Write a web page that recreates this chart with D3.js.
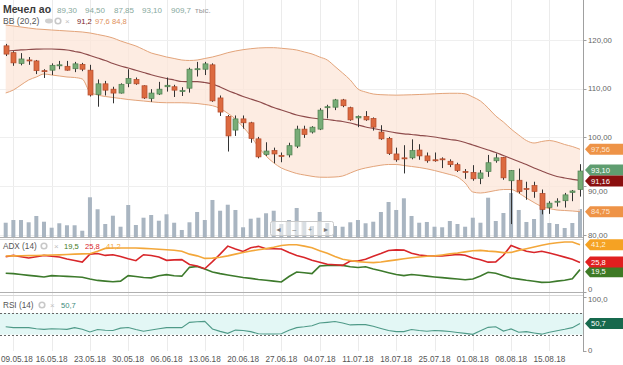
<!DOCTYPE html>
<html>
<head>
<meta charset="utf-8">
<script src="https://cdn.jsdelivr.net/npm/d3@7"></script>
<style>
  body { margin: 0; background: #fff; }
  svg { display: block; font-family: "Liberation Sans", Arial, sans-serif; }
</style>
</head>
<body>
<svg width="623" height="365"></svg>
<script>
// daily candles, Мечел ао, 08.05.18 - 21.08.18
const opens  = [118.8,117.4,115.2,115.9,115.7,113.7,113.8,114.7,114.6,114.1,115.0,113.8,108.8,111.0,109.9,109.1,111.1,111.9,110.6,108.0,
                108.9,110.4,110.4,109.4,110.1,113.9,114.0,114.9,108.1,104.3,101.5,103.8,103.0,99.7,96.5,97.3,96.3,96.4,98.2,101.7,
                101.1,101.7,106.1,106.2,107.7,106.1,104.0,104.3,103.9,101.1,99.8,96.6,95.8,95.8,97.4,96.2,95.4,95.6,95.1,94.4,
                93.0,92.8,91.6,93.0,95.2,95.9,91.1,91.2,89.5,90.1,88.5,85.6,86.7,87.0,88.7,89.30];
const highs  = [119.2,117.7,117.3,116.5,115.9,114.0,115.2,115.7,115.7,115.5,115.3,114.9,111.9,111.6,110.4,111.1,114.0,112.3,110.7,109.9,
                111.4,112.3,110.8,110.3,114.3,115.5,115.5,115.2,108.6,104.6,104.5,104.5,103.2,100.1,99.0,97.9,96.9,98.9,102.4,102.4,
                102.3,106.0,106.7,107.9,107.9,106.3,104.5,105.4,104.1,102.5,100.1,97.9,98.4,99.6,98.6,96.9,96.9,95.9,95.5,94.8,
                93.5,94.3,93.3,96.4,96.7,96.0,93.3,93.6,90.9,90.9,89.3,86.9,87.5,88.6,89.2,94.50];
const lows   = [116.7,114.7,114.8,114.9,113.0,112.2,112.8,114.0,113.7,113.4,113.6,108.4,106.3,108.6,107.0,109.0,110.3,110.8,107.9,107.3,
                108.7,109.4,108.3,108.5,109.2,112.5,112.8,107.3,104.4,97.1,100.3,101.8,98.9,95.7,96.2,94.7,94.9,95.9,97.8,99.9,
                100.8,101.5,103.9,105.6,106.2,103.4,102.1,103.4,101.4,99.5,96.4,95.0,92.6,95.5,95.4,94.8,95.0,93.7,93.9,92.9,
                91.5,91.1,90.4,91.9,94.8,91.3,82.2,88.5,87.2,87.6,84.2,84.3,85.8,85.6,86.9,87.85];
const closes = [117.1,115.3,116.1,115.7,113.7,113.6,114.8,114.9,113.8,115.1,114.0,108.7,111.0,109.7,109.1,110.9,112.1,111.0,108.1,109.1,
                109.9,110.7,109.7,109.6,114.0,114.1,115.1,107.5,105.2,100.3,103.8,103.0,99.8,96.0,97.2,96.6,96.2,98.3,101.7,100.6,
                102.1,105.6,106.3,107.7,106.5,103.6,104.3,103.6,102.1,99.7,96.7,95.4,95.6,97.3,96.2,95.2,95.2,95.5,94.4,93.2,
                92.8,91.5,92.7,94.8,95.8,91.7,93.2,88.9,89.3,88.9,85.2,86.5,86.9,88.2,89.0,93.10];
// volume, thousands of shares
const volumes = [464,552,552,478,683,497,302,446,381,381,204,1291,901,422,692,334,1040,390,627,715,
                 529,738,464,228,478,813,552,1203,854,1049,878,316,594,627,771,854,422,552,943,488,
                 358,813,455,358,334,478,552,446,497,813,1138,878,1258,683,464,488,334,316,520,422,
                 334,627,464,1277,520,780,1430,878,488,585,1365,455,422,293,455,909.7];

// Bollinger (20,2)
const bbMid = [117.64,117.84,117.95,118.05,118.11,118.15,118.15,118.09,117.95,117.64,117.33,116.82,116.30,115.79,115.17,114.66,114.25,113.78,113.33,112.87,
               112.46,112.09,111.79,111.48,111.44,111.44,111.27,110.97,110.35,109.63,109.01,108.40,107.88,107.37,106.76,106.14,105.63,105.11,104.60,104.25,
               103.98,103.78,103.68,103.47,103.27,102.96,102.55,102.14,101.83,101.52,101.21,100.94,100.74,100.60,100.43,100.29,100.08,99.81,99.57,99.36,
               98.95,98.44,97.93,97.41,96.90,96.28,95.67,95.05,94.43,93.72,93.10,92.48,91.97,91.66,91.40,91.16];
const bbUp  = [123.08,122.88,122.67,122.46,122.26,122.16,122.05,121.95,121.85,121.75,121.64,121.44,121.13,120.82,120.41,119.80,119.28,118.77,118.05,117.33,
               116.92,116.51,116.20,115.89,115.79,115.89,116.20,116.51,116.92,117.39,117.74,118.01,118.21,118.36,118.42,118.42,118.30,118.15,117.95,117.54,
               117.13,116.51,115.89,114.56,113.22,111.79,109.94,109.32,108.91,108.77,108.71,108.67,108.71,108.75,108.81,108.87,108.95,109.02,109.06,109.06,
               108.95,108.30,107.47,106.04,104.39,103.16,101.72,100.49,99.36,98.85,99.16,99.36,99.06,98.54,98.13,97.56];
const bbLow = [109.12,109.73,110.76,111.79,112.40,113.02,112.81,112.61,112.40,112.30,111.99,109.32,108.71,108.40,108.19,107.99,107.78,107.62,107.47,107.31,
               107.17,107.12,107.12,107.12,107.06,106.96,106.76,106.51,105.94,104.95,103.78,102.14,100.29,98.03,96.18,94.78,93.72,93.10,92.59,92.28,
               92.01,91.83,91.81,91.87,92.07,92.69,93.31,93.72,94.03,94.29,94.44,94.44,94.23,94.03,93.82,93.55,93.20,92.79,92.38,91.87,
               90.64,88.79,88.58,88.79,89.10,89.30,89.30,88.58,87.56,86.63,85.81,85.40,85.09,84.99,84.89,84.75];

// ADX (14)
const diPlus  = [16.4,16.0,15.2,14.5,13.8,13.1,14.3,14.0,13.6,13.3,12.8,11.3,10.1,9.5,9.0,9.5,14.3,13.5,12.6,12.3,
                 14.2,15.1,14.2,13.8,21.5,22.2,20.0,17.5,16.0,14.8,13.7,12.7,11.9,10.9,10.2,9.5,8.7,13.5,17.4,16.8,
                 16.0,22.6,23.2,23.2,23.2,22.0,21.4,22.0,20.0,18.5,16.8,15.2,14.3,15.3,14.6,13.8,13.1,12.5,11.9,11.3,
                 10.7,11.4,14.0,17.2,16.3,14.2,12.2,11.2,10.2,9.4,8.4,8.5,9.5,10.2,11.5,19.5];
const diMinus = [30.7,31.9,30.8,29.7,30.8,31.9,31.2,30.5,28.8,27.5,26.1,33.0,33.5,31.9,32.5,31.0,29.0,27.3,32.5,31.8,
                 30.5,27.6,28.0,28.2,24.0,22.6,20.3,26.5,33.0,40.0,37.5,35.4,38.5,39.8,37.7,37.7,37.5,34.5,31.9,30.0,
                 27.6,26.0,24.2,23.7,23.2,27.0,27.0,28.5,31.2,33.5,36.2,36.7,36.5,33.8,32.3,31.6,31.4,31.4,32.0,32.8,
                 32.0,29.6,28.2,26.0,26.2,32.0,40.6,38.0,35.5,34.5,35.5,34.0,32.2,30.4,28.5,25.8];
const adx     = [31.4,31.5,31.6,31.7,31.8,32.0,32.2,32.4,32.7,33.0,33.2,33.4,35.5,38.0,38.3,38.3,38.3,38.3,38.0,37.7,
                 37.3,36.8,36.4,35.5,33.0,31.5,29.3,29.5,30.3,31.5,33.0,34.5,35.7,36.8,37.8,39.0,40.5,41.2,41.2,40.0,
                 38.6,36.0,33.7,31.0,28.6,27.5,26.5,26.0,25.6,26.2,27.1,28.0,29.0,29.8,30.5,31.1,31.5,32.3,33.2,34.0,
                 35.0,36.0,36.3,35.6,35.2,34.3,34.5,36.3,37.7,39.2,40.8,42.0,43.0,43.6,43.6,41.2];

// RSI (14)
const rsi = [44.5,42.9,43.3,43.0,41.0,39.8,41.0,40.5,39.8,43.0,40.0,34.9,39.5,38.0,37.5,42.0,43.3,39.5,36.1,38.5,
             40.8,43.0,43.3,42.9,52.8,53.8,54.5,40.5,36.0,32.4,38.4,37.5,35.5,31.5,31.1,31.1,31.5,38.0,42.9,44.5,
             46.5,51.5,52.8,54.4,51.5,48.0,48.5,48.5,45.5,41.5,37.5,35.5,35.5,39.5,37.5,36.3,37.5,37.0,35.7,34.0,
             32.2,30.5,37.0,43.5,44.5,36.5,40.5,34.5,35.5,33.0,30.8,34.5,37.0,39.8,43.0,50.7];

// weekly date marks (first at the 2nd candle, every 5 sessions)
const tickLabels = ['09.05.18','16.05.18','23.05.18','30.05.18','06.06.18','13.06.18','20.06.18','27.06.18',
                    '04.07.18','11.07.18','18.07.18','25.07.18','01.08.18','08.08.18','15.08.18'];
const priceTicks = [80, 90, 100, 110, 120];

const svg = d3.select('svg');
const axisX = 583.5;
const n = closes.length;
const idx = d3.range(n);

const ru = d3.formatLocale({decimal: ',', thousands: ' ', grouping: [3], currency: ['', '']});
const f1 = ru.format('.1f'), f2 = ru.format('.2f');

const x = d3.scaleLinear().domain([0, n - 1]).range([5.7, 580]);
const yP = d3.scaleLinear().domain([79.55, 128.21]).range([237, 0]);
const yV = d3.scaleLinear().domain([0, 3250]).range([237, 137]);
const yA = d3.scaleLinear().domain([0, 46.2]).range([292, 239]);
const yR = d3.scaleLinear().domain([0, 100]).range([350.7, 297]);
const tickIdx = tickLabels.map((d, k) => 1 + 5 * k);

const defs = svg.append('defs');
const clip = (id, y0, y1) => defs.append('clipPath').attr('id', id)
  .append('rect').attr('x', 0).attr('y', y0).attr('width', axisX).attr('height', y1 - y0);
clip('cMain', 0, 237);
clip('cAdx', 239, 292);
clip('cRsi', 295, 351);

// grid
const grid = svg.append('g');
grid.selectAll('.vg').data(tickIdx).enter().append('line')
  .attr('x1', d => Math.round(x(d)) + 0.5).attr('x2', d => Math.round(x(d)) + 0.5)
  .attr('y1', 0).attr('y2', 351)
  .attr('stroke', '#ebebeb');
grid.selectAll('.hg').data(priceTicks).enter().append('line')
  .attr('x1', 0).attr('x2', axisX)
  .attr('y1', d => Math.round(yP(d)) + 0.5).attr('y2', d => Math.round(yP(d)) + 0.5)
  .attr('stroke', '#efefef');

// ---- main panel
const main = svg.append('g').attr('clip-path', 'url(#cMain)');

main.selectAll('.vol').data(idx).enter().append('rect')
  .attr('x', i => x(i) - 2).attr('width', 4)
  .attr('y', i => yV(volumes[i])).attr('height', i => yV(0) - yV(volumes[i]))
  .attr('fill', '#a9b5c1');

main.append('path')
  .attr('d', d3.area().x(i => x(i)).y0(i => yP(bbLow[i])).y1(i => yP(bbUp[i])).curve(d3.curveMonotoneX)(idx))
  .attr('fill', '#fce6d8').attr('fill-opacity', 0.75);
[bbUp, bbLow].forEach(s => {
  main.append('path')
    .attr('d', d3.line().x(i => x(i)).y(i => yP(s[i])).curve(d3.curveMonotoneX)(idx))
    .attr('fill', 'none').attr('stroke', '#e3a47a').attr('stroke-width', 1);
});
main.append('path')
  .attr('d', d3.line().x(i => x(i)).y(i => yP(bbMid[i])).curve(d3.curveMonotoneX)(idx))
  .attr('fill', 'none').attr('stroke', '#8e4b4b').attr('stroke-width', 1.2);

const cg = main.selectAll('.candle').data(idx).enter().append('g');
cg.append('line')
  .attr('x1', i => Math.round(x(i)) + 0.5).attr('x2', i => Math.round(x(i)) + 0.5)
  .attr('y1', i => yP(highs[i])).attr('y2', i => yP(lows[i]))
  .attr('stroke', '#333').attr('stroke-width', 1);
cg.append('rect')
  .attr('x', i => Math.round(x(i)) - 2).attr('width', 5)
  .attr('y', i => yP(Math.max(opens[i], closes[i])))
  .attr('height', i => Math.max(1, yP(Math.min(opens[i], closes[i])) - yP(Math.max(opens[i], closes[i]))))
  .attr('fill', i => closes[i] >= opens[i] ? '#78ac77' : '#dc6a40')
  .attr('stroke', i => closes[i] >= opens[i] ? '#4f7f50' : '#b24a2b')
  .attr('stroke-width', 0.7);

// navigator widget over the volume
const nav = svg.append('g');
nav.append('rect').attr('x', 270.5).attr('y', 221.5).attr('width', 63).attr('height', 14).attr('rx', 2)
  .attr('fill', '#fff').attr('fill-opacity', 0.55).attr('stroke', '#c9c9c9');
['\u25C4', '\u2013', '+', '\u25BA'].forEach((s, k) => {
  nav.append('text').attr('x', 278.5 + k * 15.8).attr('y', 231.5).attr('text-anchor', 'middle')
    .attr('font-size', 7).attr('fill', '#777').text(s);
  if (k) nav.append('line').attr('x1', 270.5 + k * 15.8).attr('x2', 270.5 + k * 15.8)
    .attr('y1', 222).attr('y2', 235).attr('stroke', '#ddd');
});

// ---- ADX panel
const adxG = svg.append('g').attr('clip-path', 'url(#cAdx)');
[[diPlus, '#3d7a2c'], [diMinus, '#d8262a'], [adx, '#f3a73a']].forEach(([s, c]) => {
  adxG.append('path')
    .attr('d', d3.line().x(i => x(i)).y(i => yA(s[i]))(idx))
    .attr('fill', 'none').attr('stroke', c).attr('stroke-width', 1.6);
});

// ---- RSI panel
const rsiG = svg.append('g').attr('clip-path', 'url(#cRsi)');
rsiG.append('rect').attr('x', 0).attr('width', axisX)
  .attr('y', yR(70)).attr('height', yR(30) - yR(70)).attr('fill', '#e3f7f5');
[30, 70].forEach(v => rsiG.append('line')
  .attr('x1', 0).attr('x2', axisX).attr('y1', Math.round(yR(v)) + 0.5).attr('y2', Math.round(yR(v)) + 0.5)
  .attr('stroke', '#666').attr('stroke-dasharray', '2,2'));
rsiG.append('path')
  .attr('d', d3.line().x(i => x(i)).y(i => yR(rsi[i]))(idx))
  .attr('fill', 'none').attr('stroke', '#4f9a88').attr('stroke-width', 1.1);

// panel separators and price axis
[[237.5, '#b0b0b0'], [239.5, '#d6d6d6'], [292.5, '#b0b0b0'], [295.5, '#d6d6d6']].forEach(([y, c]) =>
  svg.append('line').attr('x1', 0).attr('x2', axisX).attr('y1', y).attr('y2', y).attr('stroke', c));
svg.append('line').attr('x1', axisX).attr('x2', axisX).attr('y1', 0).attr('y2', 352).attr('stroke', '#a0a0a0');

const axisLabel = (y, s, ty) => {
  svg.append('line').attr('x1', axisX).attr('x2', axisX + 3).attr('y1', Math.round(y) + 0.5).attr('y2', Math.round(y) + 0.5)
    .attr('stroke', '#a0a0a0');
  svg.append('text').attr('x', 588).attr('y', ty === undefined ? y : ty).attr('dy', '0.35em')
    .attr('font-size', 7.8).attr('fill', '#666').text(s);
};
// 90,00 sits mostly under the value tags; nudge it below them
priceTicks.forEach(v => axisLabel(yP(v), f2(v), v === 90 ? yP(v) + 5 : undefined));
axisLabel(yA(0), '0', yA(0) - 3);
axisLabel(yR(100), '100,0', yR(100) + 2);
axisLabel(yR(0), '0');

// value tags on the right
const tag = (y, s, fill, txt) => {
  const g = svg.append('g');
  g.append('path')
    .attr('d', `M585,${y} L590,${y - 5.5} L630,${y - 5.5} L630,${y + 5.5} L590,${y + 5.5} Z`)
    .attr('fill', fill);
  g.append('text').attr('x', 591).attr('y', y).attr('dy', '0.35em')
    .attr('font-size', 7.6).attr('fill', txt || '#fff').text(s);
};
tag(yP(bbUp[n - 1]), f2(bbUp[n - 1]), '#ee9347', '#fde6d2');
tag(yP(closes[n - 1]) - 1, f2(closes[n - 1]), '#5f9d70');
tag(yP(bbMid[n - 1]) + 0.5, f2(bbMid[n - 1]), '#8a0f0f');
tag(yP(bbLow[n - 1]), f2(bbLow[n - 1]), '#ee9347', '#fde6d2');
tag(yA(adx[n - 1]), f1(adx[n - 1]), '#f5a223', '#fff3dc');
tag(yA(diPlus[n - 1]) + 2, f1(diPlus[n - 1]), '#3e7a25');
tag(yA(diMinus[n - 1]) - 0.5, f1(diMinus[n - 1]), '#e01f1f');
tag(yR(rsi[n - 1]), f1(rsi[n - 1]), '#17694d');

// date labels
svg.selectAll('.dl').data(tickIdx).enter().append('text')
  .attr('x', i => x(i)).attr('y', 362).attr('text-anchor', 'middle')
  .attr('font-size', 8.2).attr('fill', '#555')
  .text((i, k) => tickLabels[k])
  .each(function () {
    const w = this.getComputedTextLength();
    const cx = +this.getAttribute('x');
    if (cx - w / 2 < 1) this.setAttribute('x', 1 + w / 2);
  });

// legends
const label = (xp, y, s, c, size, weight) => svg.append('text').attr('x', xp).attr('y', y)
  .attr('font-size', size || 7.6).attr('fill', c).attr('font-weight', weight || 'normal').text(s);
const gear = (cx, cy) => svg.append('circle').attr('cx', cx).attr('cy', cy).attr('r', 2.8)
  .attr('fill', 'none').attr('stroke', '#c8c8c8').attr('stroke-width', 1.6);

label(3, 13, 'Мечел ао', '#3a3a3a', 10.5, 'bold');
const valC = '#87a99d';
label(57, 13, f2(opens[n - 1]), valC, 8);
label(85, 13, f2(highs[n - 1]), valC, 8);
label(114, 13, f2(lows[n - 1]), valC, 8);
label(142, 13, f2(closes[n - 1]), valC, 8);
label(171, 13, f1(volumes[n - 1]), valC, 8);
label(195, 13, 'тыс.', '#9a9a9a', 8);

label(3, 24, 'BB (20,2)', '#555', 8.6);
svg.append('ellipse').attr('cx', 49).attr('cy', 21).attr('rx', 4).attr('ry', 2.4).attr('fill', '#d0d0d0');
gear(58, 21);
label(65, 24, '\u00D7', '#c0c0c0', 8);
label(77, 24, f1(bbMid[n - 1]), '#7a1c1c');
label(95, 24, f1(bbUp[n - 1]), '#e0915b');
label(112, 24, f1(bbLow[n - 1]), '#e0915b');

label(3, 249, 'ADX (14)', '#555', 8.2);
gear(44, 246);
label(54, 249, '\u00D7', '#c0c0c0', 8);
label(64, 249, f1(diPlus[n - 1]), '#3e7a25');
label(85, 249, f1(diMinus[n - 1]), '#d8262a');
label(106, 249, f1(adx[n - 1]), '#f3a73a');

label(3, 308, 'RSI (14)', '#555', 8.2);
gear(42, 305);
label(50, 308, '\u00D7', '#c0c0c0', 8);
label(61, 308, f1(rsi[n - 1]), '#3a8a7a');
</script>
</body>
</html>
